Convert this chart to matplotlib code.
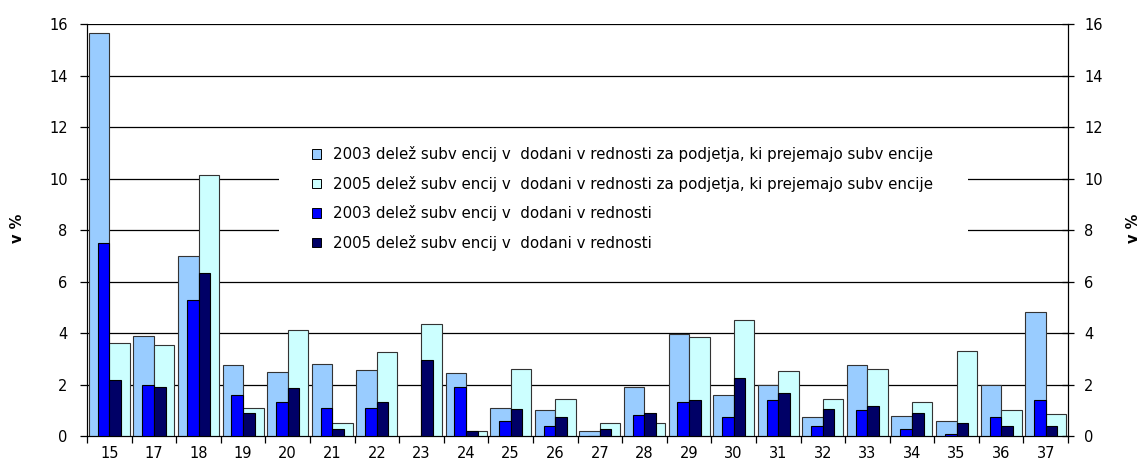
import matplotlib
matplotlib.use("Agg")
import matplotlib.pyplot as plt
from matplotlib.patches import Patch, Rectangle
import numpy as np

plt.rcParams["font.family"] = ["DejaVu Sans"]

# dejavnosti (SKD)
kategorije = ["15", "17", "18", "19", "20", "21", "22", "23", "24", "25", "26",
              "27", "28", "29", "30", "31", "32", "33", "34", "35", "36", "37"]

# delez subvencij v dodani vrednosti za podjetja, ki prejemajo subvencije
podj_2003 = [15.65, 3.90, 6.98, 2.74, 2.50, 2.81, 2.58, 0.00, 2.43, 1.10, 1.02,
             0.20, 1.92, 3.97, 1.61, 2.00, 0.73, 2.74, 0.78, 0.58, 2.00, 4.80]
podj_2005 = [3.60, 3.54, 10.14, 1.10, 4.12, 0.51, 3.25, 4.34, 0.21, 2.60, 1.42,
             0.51, 0.51, 3.84, 4.50, 2.51, 1.45, 2.59, 1.33, 3.32, 1.02, 0.86]

# delez subvencij v dodani vrednosti (vsa podjetja)
vsi_2003 = [7.50, 2.00, 5.30, 1.60, 1.33, 1.10, 1.10, 0.00, 1.92, 0.59, 0.37,
            0.00, 0.80, 1.33, 0.73, 1.41, 0.37, 1.02, 0.29, 0.07, 0.73, 1.41]
vsi_2005 = [2.16, 1.92, 6.32, 0.88, 1.85, 0.29, 1.33, 2.97, 0.21, 1.03, 0.75,
            0.29, 0.88, 1.41, 2.27, 1.69, 1.03, 1.18, 0.88, 0.51, 0.37, 0.37]

oznake = ["2003 delež subv encij v  dodani v rednosti za podjetja, ki prejemajo subv encije",
          "2005 delež subv encij v  dodani v rednosti za podjetja, ki prejemajo subv encije",
          "2003 delež subv encij v  dodani v rednosti",
          "2005 delež subv encij v  dodani v rednosti"]

C_SVETLO = "#99ccff"
C_CIAN = "#ccffff"
C_MODRA = "#0000ff"
C_TEMNA = "#000066"
ROB = "#333333"

x = np.arange(len(kategorije))

fig = plt.figure(figsize=(11.45, 4.7), dpi=100)
ax = fig.add_axes([0.076, 0.0723, 0.8568, 0.8766])
ax2 = ax.twinx()

#mreza
for v in range(2, 17, 2):
    ax.axhline(v, color="black", lw=0.9, zorder=1)
# bel pravokotnik pod legendo (skrije crte 8 in 10)
ax.add_patch(Rectangle((3.8, 6.7), 15.45, 4.6, facecolor="white",
                       edgecolor="none", zorder=2))

ax.bar(x - 0.23, podj_2003, 0.46, color=C_SVETLO, edgecolor=ROB, lw=0.8, zorder=3)
ax.bar(x + 0.23, podj_2005, 0.46, color=C_CIAN, edgecolor=ROB, lw=0.8, zorder=3)
ax2.bar(x - 0.13, vsi_2003, 0.26, color=C_MODRA, edgecolor="black", lw=0.8, zorder=3)
ax2.bar(x + 0.13, vsi_2005, 0.26, color=C_TEMNA, edgecolor="black", lw=0.8, zorder=3)

for a in (ax, ax2):
    a.set_xlim(-0.5, len(kategorije) - 0.5)
    a.set_ylim(0, 16)
    a.set_yticks(range(0, 17, 2))
    a.spines["top"].set_visible(False)

ax.tick_params(axis="y", direction="out", length=5, width=0.9, labelsize=10.5, pad=9)
ax2.tick_params(axis="y", direction="inout", length=9, width=0.9, labelsize=10.5, pad=7)
ax.set_xticks(x)
ax.set_xticklabels(kategorije)
ax.set_xticks(np.arange(-0.5, len(kategorije)), minor=True)
ax.tick_params(axis="x", which="major", length=0, labelsize=10.5, pad=7)
ax.tick_params(axis="x", which="minor", length=5, width=0.9, direction="out")

# oznake osi
fig.text(18 / 1145, 1 - 228 / 470, "v %", rotation=90, ha="center", va="center",
         fontsize=10.5, fontweight="bold")
fig.text(1134 / 1145, 1 - 228 / 470, "v %", rotation=90, ha="center", va="center",
         fontsize=10.5, fontweight="bold")

rocke = [Patch(facecolor=c, edgecolor="black", lw=0.7)
         for c in (C_SVETLO, C_CIAN, C_MODRA, C_TEMNA)]
ax2.legend(rocke, oznake, loc="upper left", bbox_to_anchor=(0.223, 0.718),
           frameon=False, fontsize=10.8, handlelength=0.6, handleheight=0.6,
           handletextpad=0.8, labelspacing=0.9, borderaxespad=0)

fig.savefig("out.png", dpi=100)
